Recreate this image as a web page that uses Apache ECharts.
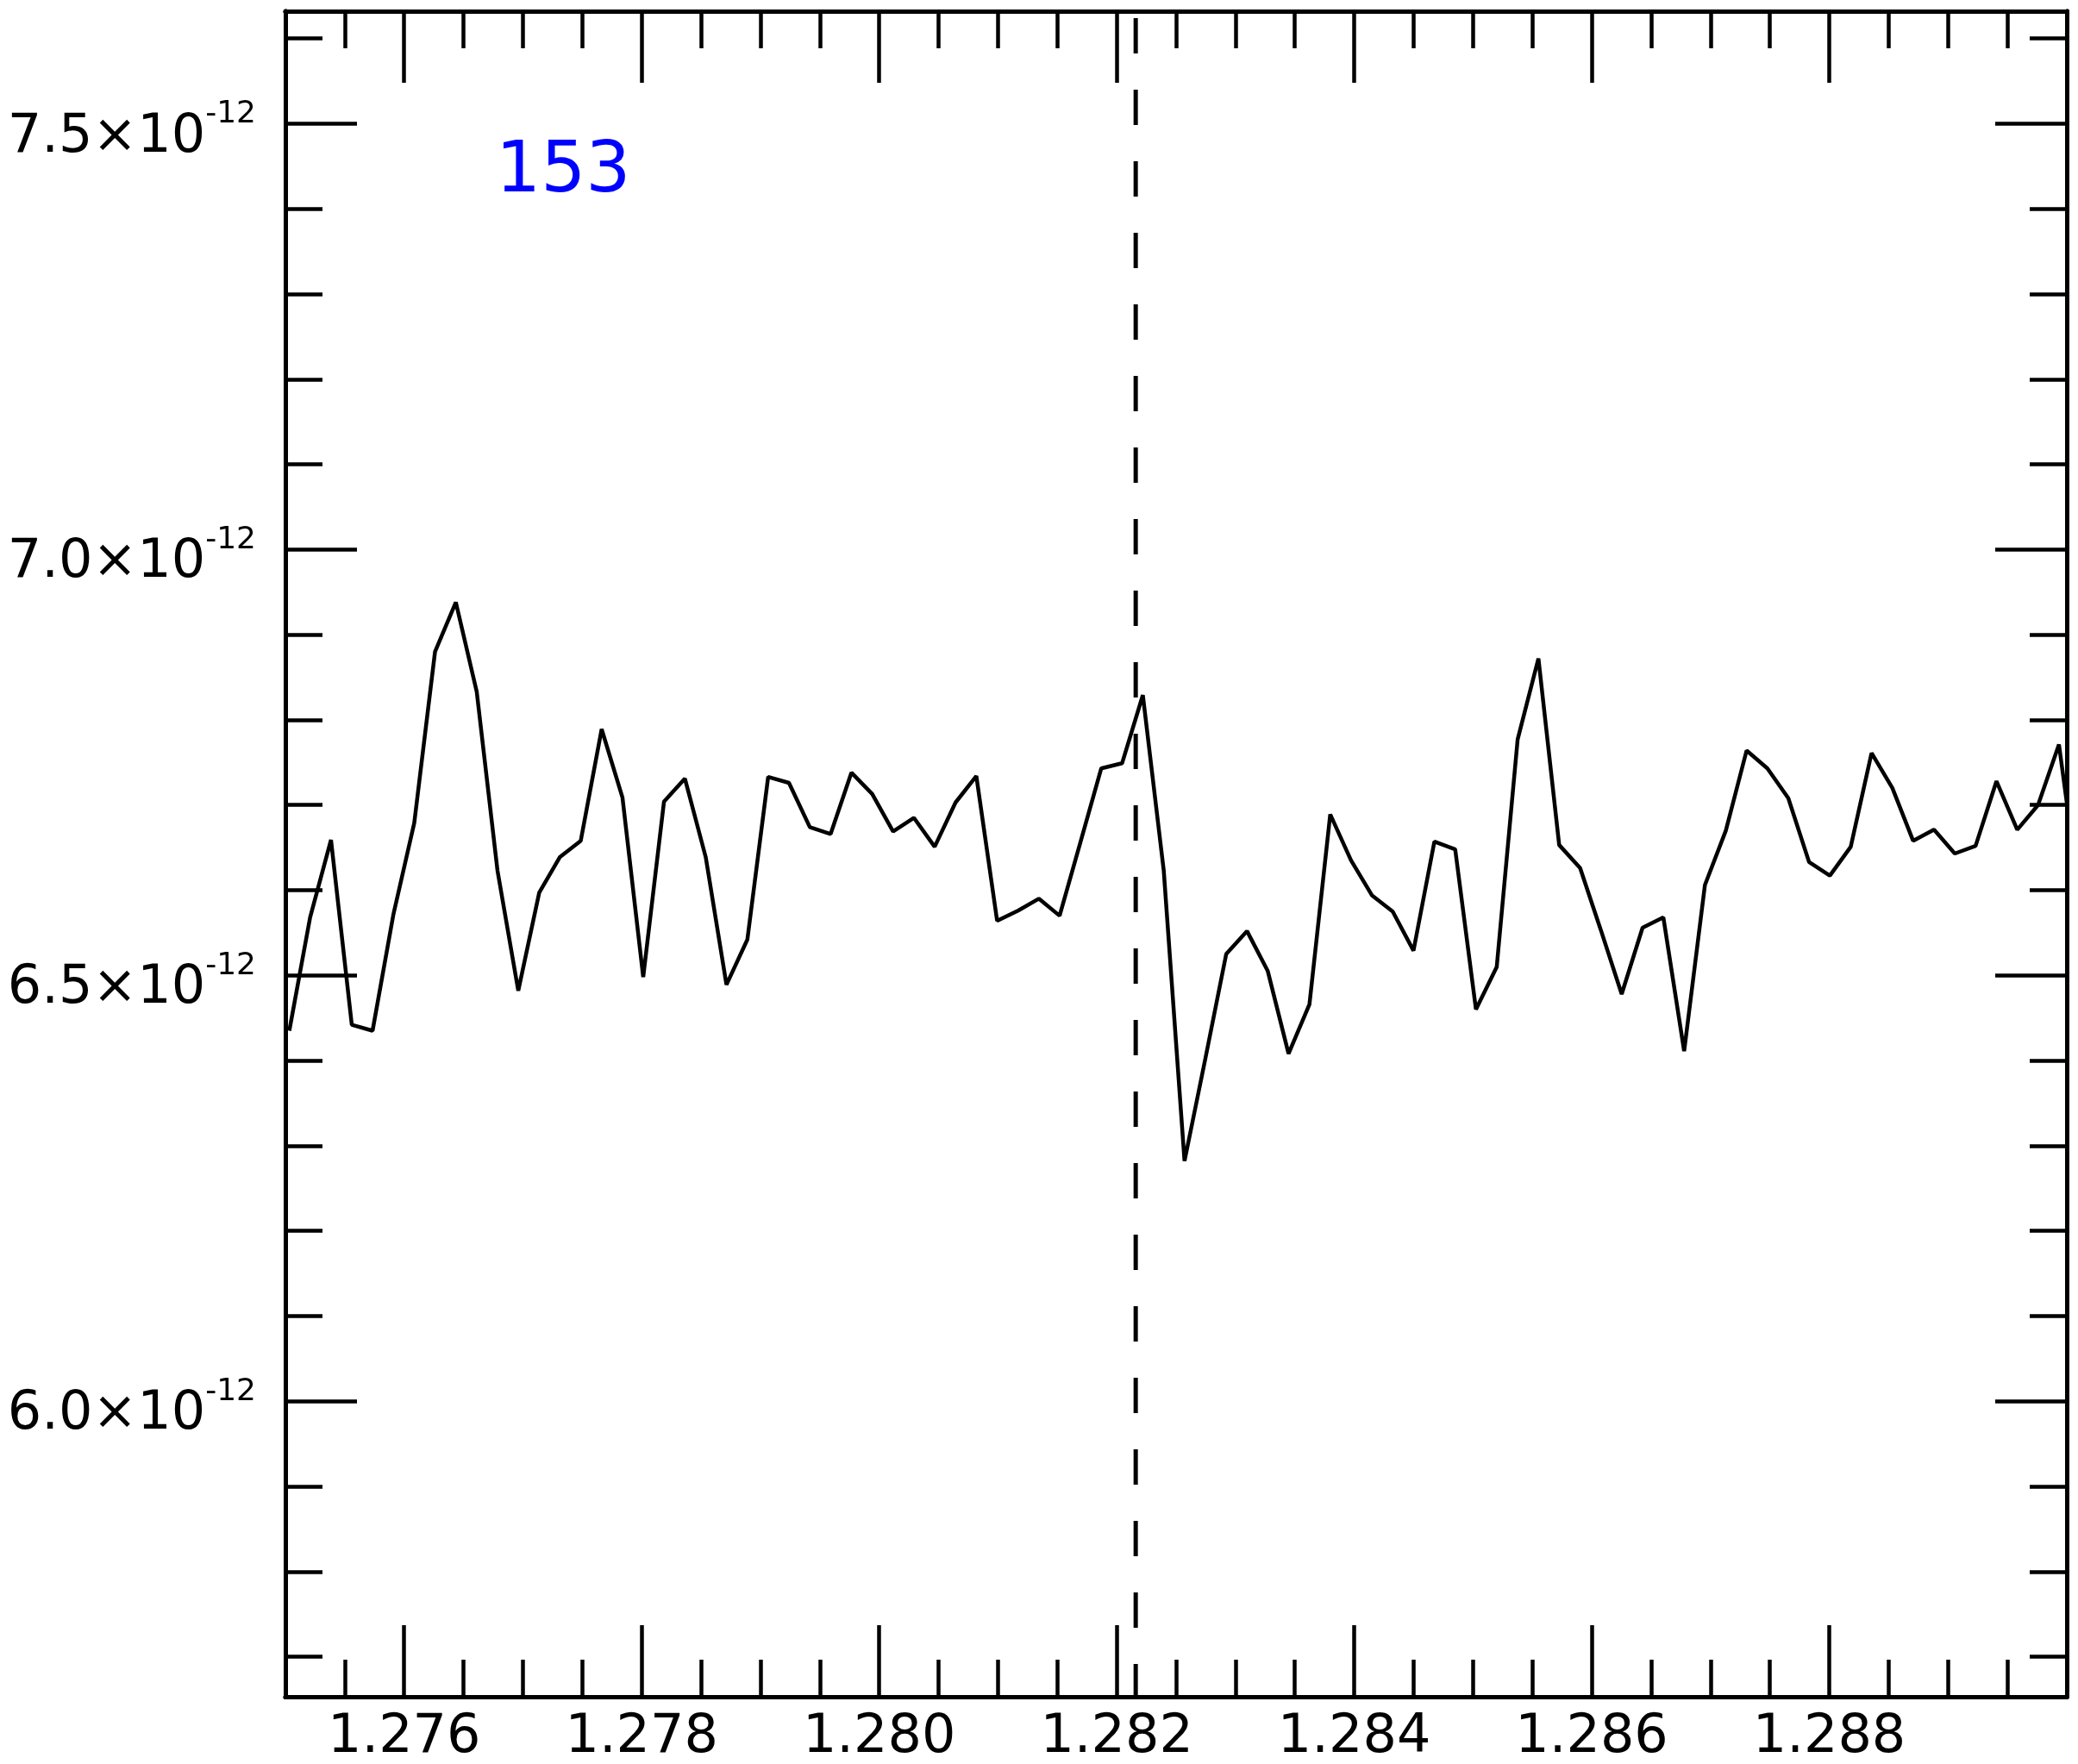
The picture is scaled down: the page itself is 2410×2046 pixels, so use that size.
<!DOCTYPE html>
<html>
<head>
<meta charset="utf-8">
<title>153</title>
<script src="https://cdn.jsdelivr.net/npm/echarts@6/dist/echarts.min.js"></script>
<style>
  html, body { margin: 0; padding: 0; background: #fff; }
  #chart { width: 2410px; height: 2046px; }
</style>
</head>
<body>
<div id="chart"></div>
<script>
// wavelength grid (x)
const wave = [
  1.275033, 1.275208, 1.275384, 1.275559, 1.275734, 1.275910, 1.276085, 1.276260, 1.276435, 1.276611,
  1.276786, 1.276961, 1.277137, 1.277312, 1.277487, 1.277663, 1.277838, 1.278013, 1.278188, 1.278364,
  1.278539, 1.278714, 1.278890, 1.279065, 1.279240, 1.279416, 1.279591, 1.279766, 1.279941, 1.280117,
  1.280292, 1.280467, 1.280643, 1.280818, 1.280993, 1.281169, 1.281344, 1.281519, 1.281694, 1.281870,
  1.282045, 1.282220, 1.282396, 1.282571, 1.282746, 1.282922, 1.283097, 1.283272, 1.283447, 1.283623,
  1.283798, 1.283973, 1.284149, 1.284324, 1.284499, 1.284675, 1.284850, 1.285025, 1.285200, 1.285376,
  1.285551, 1.285726, 1.285902, 1.286077, 1.286252, 1.286428, 1.286603, 1.286778, 1.286953, 1.287129,
  1.287304, 1.287479, 1.287655, 1.287830, 1.288005, 1.288181, 1.288356, 1.288531, 1.288706, 1.288882,
  1.289057, 1.289232, 1.289408, 1.289583, 1.289758, 1.289934, 1.290109
]
// flux, in units of 1e-12
const flux = [
  6.435, 6.568, 6.659, 6.442, 6.435, 6.572, 6.679, 6.880, 6.938, 6.833,
  6.623, 6.482, 6.597, 6.639, 6.658, 6.789, 6.709, 6.498, 6.704, 6.731,
  6.639, 6.489, 6.542, 6.733, 6.726, 6.674, 6.666, 6.738, 6.713, 6.669,
  6.685, 6.651, 6.703, 6.734, 6.564, 6.576, 6.590, 6.570, 6.656, 6.743,
  6.749, 6.829, 6.623, 6.282, 6.402, 6.525, 6.552, 6.505, 6.408, 6.466,
  6.689, 6.635, 6.594, 6.575, 6.529, 6.657, 6.648, 6.460, 6.510, 6.777,
  6.872, 6.653, 6.626, 6.553, 6.478, 6.556, 6.568, 6.411, 6.606, 6.670,
  6.764, 6.743, 6.708, 6.633, 6.617, 6.651, 6.761, 6.720, 6.658, 6.671,
  6.643, 6.652, 6.728, 6.671, 6.700, 6.771, 6.590
]

const xMajor = [1.276, 1.278, 1.280, 1.282, 1.284, 1.286, 1.288]
const xMinor = [1.2755, 1.276, 1.2765, 1.277, 1.2775, 1.278, 1.2785, 1.279, 1.2795, 1.28,
  1.2805, 1.281, 1.2815, 1.282, 1.2825, 1.283, 1.2835, 1.284, 1.2845, 1.285,
  1.2855, 1.286, 1.2865, 1.287, 1.2875, 1.288, 1.2885, 1.289, 1.2895]
const yMajor = [6.0, 6.5, 7.0, 7.5]
const yMinor = [5.7, 5.8, 5.9, 6.0, 6.1, 6.2, 6.3, 6.4, 6.5, 6.6, 6.7, 6.8, 6.9,
  7.0, 7.1, 7.2, 7.3, 7.4, 7.5, 7.6]

const lineCenter = 1.28216
const panelLabel = '153'

const X_MIN = 1.275, X_MAX = 1.290
const Y_MIN = 5.653, Y_MAX = 7.632
const FONT = 'DejaVu Sans'

function xAx(position, ticks, len, withLabels) {
  return {
    type: 'value',
    position: position,
    min: X_MIN,
    max: X_MAX,
    axisLine: { show: true, onZero: false, lineStyle: { color: '#000', width: 5 } },
    axisTick: { show: true, inside: true, length: len, customValues: ticks, lineStyle: { color: '#000', width: 4.5 } },
    axisLabel: withLabels ? {
      show: true, customValues: xMajor, margin: 17, color: '#000',
      fontFamily: FONT, fontSize: 62,
      formatter: v => v.toFixed(3),
    } : { show: false },
    splitLine: { show: false },
  }
}

function yAx(position, ticks, len, withLabels) {
  return {
    type: 'value',
    position: position,
    min: Y_MIN,
    max: Y_MAX,
    axisLine: { show: true, onZero: false, lineStyle: { color: '#000', width: 5 } },
    axisTick: { show: true, inside: true, length: len, customValues: ticks, lineStyle: { color: '#000', width: 4.5 } },
    axisLabel: withLabels ? {
      show: true, customValues: yMajor, margin: 34,
      formatter: v => '{m|' + v.toFixed(1) + '×10}{s|-12}',
      rich: {
        m: { fontFamily: FONT, fontSize: 62, color: '#000', padding: [32, 0, 0, 0] },
        s: { fontFamily: FONT, fontSize: 36, color: '#000', padding: [0, 0, 22, 0] },
      },
    } : { show: false },
    splitLine: { show: false },
  }
}

const chart = echarts.init(document.getElementById('chart'), null, { renderer: 'canvas' })

const option = {
  animation: false,
  backgroundColor: '#fff',
  grid: { left: 331, right: 13, top: 13, bottom: 78, containLabel: false, outerBoundsMode: 'none' },
  xAxis: [
    xAx('bottom', xMajor, 83, true),
    xAx('bottom', xMinor, 43, false),
    xAx('top', xMajor, 83, false),
    xAx('top', xMinor, 43, false),
  ],
  yAxis: [
    yAx('left', yMajor, 83, true),
    yAx('left', yMinor, 43, false),
    yAx('right', yMajor, 83, false),
    yAx('right', yMinor, 43, false),
  ],
  graphic: [
    {
      type: 'text',
      x: 575,
      y: 201,
      z: 100,
      style: { text: panelLabel, fill: '#0000ff', font: '82px "DejaVu Sans"', verticalAlign: 'middle' },
    },
  ],
  series: [
    {
      // line centre marker
      type: 'line',
      xAxisIndex: 0,
      yAxisIndex: 0,
      data: [[lineCenter, Y_MAX], [lineCenter, Y_MIN]],
      showSymbol: false,
      silent: true,
      lineStyle: { color: '#000', width: 5, type: [41, 42], dashOffset: -8 },
    },
    {
      type: 'line',
      xAxisIndex: 0,
      yAxisIndex: 0,
      data: wave.map((w, i) => [w, flux[i]]),
      showSymbol: false,
      clip: true,
      lineStyle: { color: '#000', width: 4.5 },
    },
  ],
}

chart.setOption(option)
</script>
</body>
</html>
